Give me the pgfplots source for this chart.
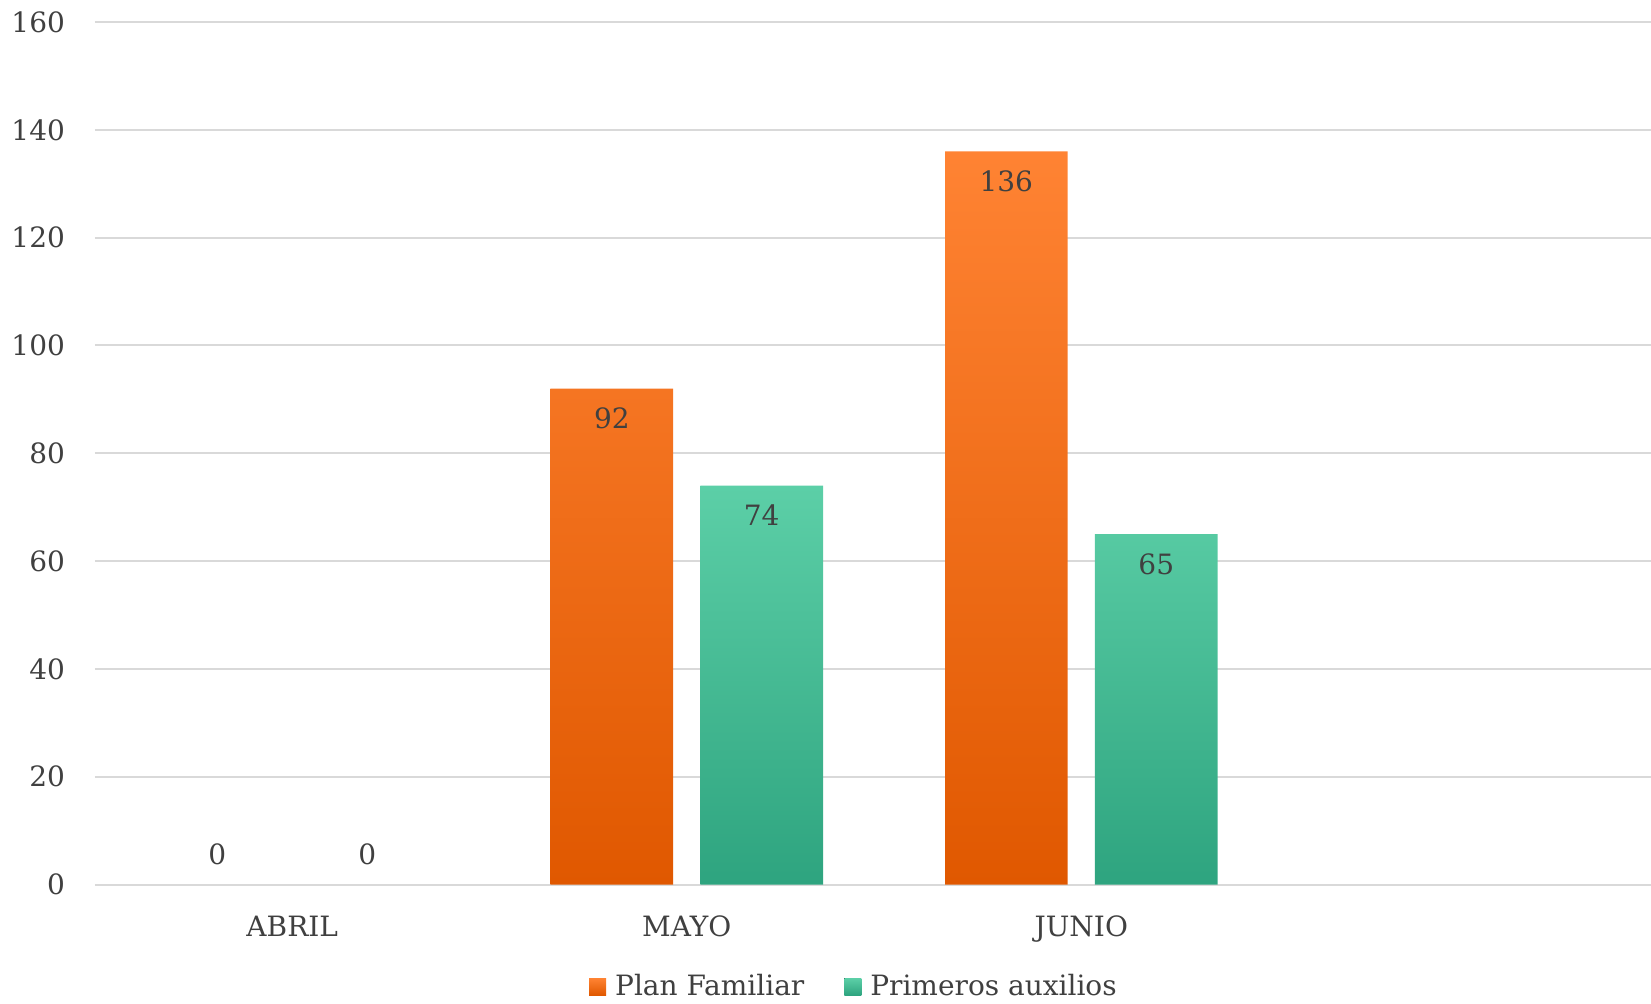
\documentclass[border=0pt]{standalone}
\usepackage{pgfplots}
\pgfplotsset{compat=1.18}
\usepackage{pgfplotstable}
\usepackage{fontspec}
\setmainfont{DejaVu Serif}
\definecolor{orT}{HTML}{FF8333}
\definecolor{orB}{HTML}{E05800}
\definecolor{grT}{HTML}{5CCFA7}
\definecolor{grB}{HTML}{2EA47F}
\definecolor{gridc}{HTML}{D9D9D9}
\definecolor{labc}{HTML}{404040}
\pgfplotstableread{
x y dy
-0.19 0 15
0.81 92 -15
1.81 136 -15
}\plan
\pgfplotstableread{
x y dy
0.19 0 15
1.19 74 -15
2.19 65 -15
}\prim
\begin{document}
\begin{tikzpicture}
\begin{axis}[
  at={(0,0)}, anchor=south west,
  scale only axis, width=778pt, height=431.25pt,
  xmin=-0.5, xmax=3.444, ymin=0, ymax=160,
  ytick={0,20,...,160},
  xtick={0,1,2}, xticklabels={ABRIL,MAYO,JUNIO},
  axis line style={draw=none},
  major tick length=0pt,
  ymajorgrids, grid style={color=gridc, line width=1pt},
  tick label style={font=\fontsize{14}{16}\selectfont, text=labc},
  yticklabel style={anchor=east, inner sep=0pt, xshift=-14.85pt},
  xticklabel style={anchor=base, inner sep=0pt, yshift=-26pt},
  /pgf/number format/assume math mode=true,
  clip=false,
  legend columns=2,
  legend style={at={(0.4884,-0.1184)}, anchor=center, draw=none, fill=none,
    font=\fontsize{14}{16}\selectfont, text=labc,
    /tikz/every even column/.append style={column sep=18pt}},
]
\addplot[ybar, bar width=0.311, bar shift=0, draw=none, top color=orT, bottom color=orB,
  y filter/.expression={y==0 ? nan : y}, unbounded coords=discard,
  legend image code/.code={\fill[top color=orT, bottom color=orB] (0pt,-4.25pt) rectangle (8.5pt,4.25pt); \path (11pt,0pt);}]
  table[x=x, y=y] {\plan};
\addlegendentry{Plan Familiar}
\addplot[ybar, bar width=0.311, bar shift=0, draw=none, top color=grT, bottom color=grB,
  y filter/.expression={y==0 ? nan : y}, unbounded coords=discard,
  legend image code/.code={\fill[top color=grT, bottom color=grB] (0pt,-4.25pt) rectangle (8.5pt,4.25pt); \path (11pt,0pt);}]
  table[x=x, y=y] {\prim};
\addlegendentry{Primeros auxilios}
\addplot[forget plot, draw=none, mark=none, point meta=explicit,
  visualization depends on={\thisrow{dy} \as \dy},
  nodes near coords,
  nodes near coords style={font=\fontsize{14}{16}\selectfont, text=labc, anchor=center, yshift={\dy*1pt}}]
  table[x=x, y=y, meta=y] {\plan};
\addplot[forget plot, draw=none, mark=none, point meta=explicit,
  visualization depends on={\thisrow{dy} \as \dy},
  nodes near coords,
  nodes near coords style={font=\fontsize{14}{16}\selectfont, text=labc, anchor=center, yshift={\dy*1pt}}]
  table[x=x, y=y, meta=y] {\prim};
\end{axis}
\pgfresetboundingbox
\path (-47.5pt,-59.25pt) rectangle (778pt,442.25pt);
\end{tikzpicture}
\end{document}
